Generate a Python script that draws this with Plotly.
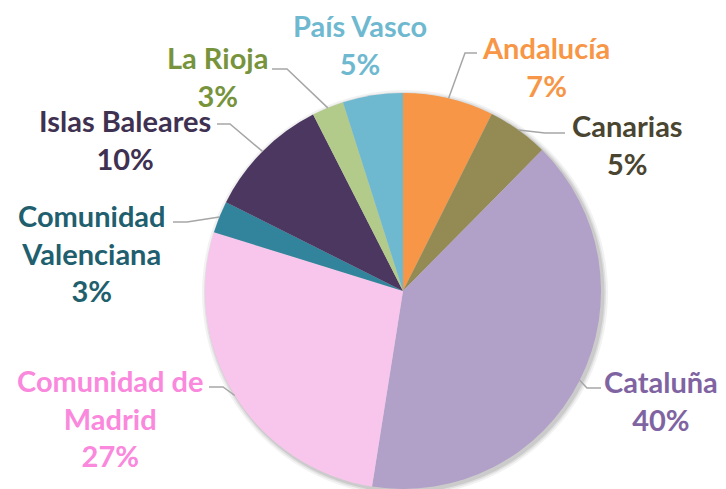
import math
import plotly.graph_objects as go

# ---- data ----
regions = ["Andalucía", "Canarias", "Cataluña", "Comunidad de Madrid",
           "Comunidad Valenciana", "Islas Baleares", "La Rioja", "País Vasco"]
label_text = ["Andalucía", "Canarias", "Cataluña", "Comunidad de<br>Madrid",
              "Comunidad<br>Valenciana", "Islas Baleares", "La Rioja", "País Vasco"]
shares = [7.4, 5.0, 40.1, 27.3, 2.6, 10.1, 2.6, 4.9]

# ---- styles ----
OFF = 8  # page body margin
W, H = 726 - OFF, 489 - OFF
slice_colors = ["#F79646", "#948A54", "#B1A0C7", "#F8C6EC",
                "#31849B", "#4B3760", "#B2CB8A", "#6FB9D0"]
text_colors = ["#F79646", "#4A4530", "#8064A2", "#FA88DC",
               "#215F6E", "#3F3151", "#77933C", "#6FB9D0"]
# label centres (window pixels) and leader line start / elbow (window pixels)
label_pos = [(546, 66), (627, 144), (661, 400), (110, 418),
             (92, 253), (125, 139), (217, 76), (360, 45)]
leader = [((477, 53), (465, 53)), ((565, 133), (545, 133)), ((601, 388), (587, 388)),
          ((209, 387), (223, 387)), ((173, 222), (187, 222)), ((217, 124), (230, 124)),
          ((272, 69), (287, 69)), None]

cx, cy, r = 403, 291, 198


def px(x):
    return (x - OFF) / W


def py(y):
    return min(1.0, max(0.0, 1 - (y - OFF) / H))


fig = go.Figure()
fig.add_trace(go.Pie(
    labels=regions, values=shares, sort=False, direction="clockwise", rotation=0,
    marker=dict(colors=slice_colors, line=dict(width=0)),
    textinfo="none", hoverinfo="label+percent", showlegend=False,
    domain=dict(x=[px(cx - r), px(cx + r)], y=[py(cy + r), py(cy - r)]),
))

shapes = []
# soft shadow under the pie
for dx, op in [(5, 0.05), (3, 0.07), (1.5, 0.09)]:
    rr = r + dx
    shapes.append(dict(type="circle", xref="paper", yref="paper", layer="below",
                       x0=px(cx + 2 - rr), x1=px(cx + 2 + rr),
                       y0=1 - (cy + 2 + rr - OFF) / H, y1=1 - (cy + 2 - rr - OFF) / H,
                       fillcolor=f"rgba(0,0,0,{op})", line=dict(width=0)))

total = sum(shares)
annotations = []
cum = 0.0
for i, v in enumerate(shares):
    mid = (cum + v / 2) / total * 2 * math.pi
    cum += v
    ex = cx + r * math.sin(mid)
    ey = cy - r * math.cos(mid)
    if leader[i] is not None:
        (sx, sy), (bx, by) = leader[i]
        path = f"M {px(sx)} {py(sy)} L {px(bx)} {py(by)} L {px(ex)} {py(ey)}"
        shapes.append(dict(type="path", xref="paper", yref="paper", path=path,
                           line=dict(color="#A6A6A6", width=1.5)))
    pct = round(v / total * 100)
    lx, ly = label_pos[i]
    annotations.append(dict(
        x=px(lx), y=py(ly), xref="paper", yref="paper", showarrow=False,
        xanchor="center", yanchor="middle", align="center",
        text=f"{label_text[i]}<br>{pct}%",
        font=dict(family="Lato", size=29, color=text_colors[i], weight="bold"),
    ))

fig.update_layout(width=W, height=H, margin=dict(l=0, r=0, t=0, b=0),
                  paper_bgcolor="white", plot_bgcolor="white",
                  shapes=shapes, annotations=annotations)
fig.write_html("out.html")
